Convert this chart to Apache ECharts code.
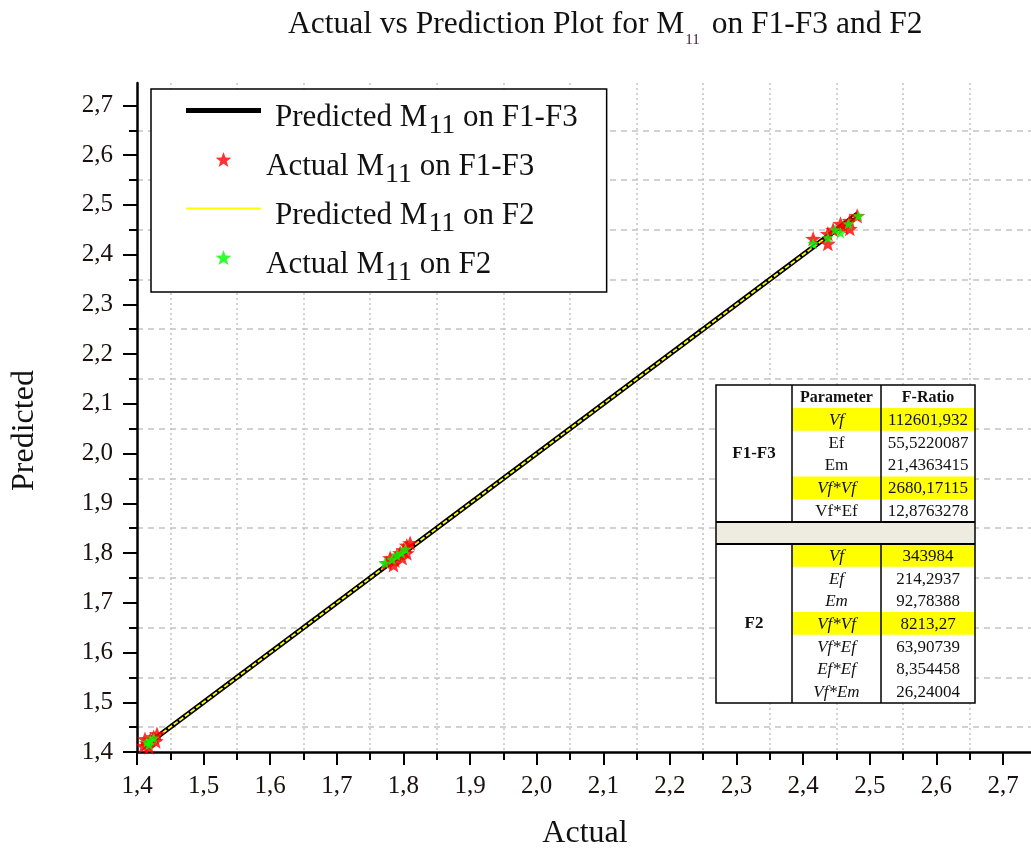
<!DOCTYPE html>
<html><head><meta charset="utf-8">
<script src="https://cdn.jsdelivr.net/npm/echarts@6/dist/echarts.min.js"></script>
<style>html,body{margin:0;padding:0;background:#fff}#c{width:1031px;height:848px}</style>
</head><body><div id="c"></div>
<script>
// ---- data ----
const xMajorTicks = [1.4,1.5,1.6,1.7,1.8,1.9,2.0,2.1,2.2,2.3,2.4,2.5,2.6,2.7];
const xMinorTicks = [1.45,1.55,1.65,1.75,1.85,1.95,2.05,2.15,2.25,2.35,2.45,2.55,2.65];
const yMajorTicks = [1.4,1.5,1.6,1.7,1.8,1.9,2.0,2.1,2.2,2.3,2.4,2.5,2.6,2.7];
const yMinorTicks = [1.45,1.55,1.65,1.75,1.85,1.95,2.05,2.15,2.25,2.35,2.45,2.55,2.65];

const predictedF13 = [[1.413,1.413],[1.80,1.80],[2.482,2.482]];
const predictedF2  = [[1.413,1.413],[1.80,1.80],[2.482,2.482]];
const actualF13 = [
  [1.410,1.412],[1.415,1.418],[1.420,1.425],[1.425,1.430],[1.430,1.436],[1.418,1.410],[1.428,1.422],[1.412,1.426],
  [1.775,1.780],[1.780,1.790],[1.787,1.785],[1.790,1.795],[1.795,1.800],[1.800,1.806],[1.805,1.800],[1.805,1.815],[1.810,1.820],[1.785,1.776],[1.798,1.790],
  [2.415,2.432],[2.437,2.442],[2.437,2.422],[2.456,2.462],[2.470,2.452],[2.470,2.468],[2.481,2.478],[2.445,2.450],[2.460,2.455]
];
const actualF2 = [
  [1.415,1.420],[1.420,1.423],[1.425,1.428],[1.418,1.415],
  [1.772,1.780],[1.783,1.787],[1.790,1.795],[1.797,1.800],[1.803,1.808],
  [2.415,2.422],[2.437,2.434],[2.456,2.444],[2.468,2.462],[2.483,2.478],[2.448,2.450]
];

const seriesNames = ['Predicted M11 on F1-F3','Actual M11 on F1-F3','Predicted M11 on F2','Actual M11 on F2'];

const tableHeader = ['Parameter','F-Ratio'];
const groupNames = ['F1-F3','F2'];
const f13Params = ['Vf','Ef','Em','Vf*Vf','Vf*Ef'];
const f13Values = ['112601,932','55,5220087','21,4363415','2680,17115','12,8763278'];
const f13Highlight = [true,false,false,true,false];
const f13Italic = [true,false,false,true,false];
const f2Params = ['Vf','Ef','Em','Vf*Vf','Vf*Ef','Ef*Ef','Vf*Em'];
const f2Values = ['343984','214,2937','92,78388','8213,27','63,90739','8,354458','26,24004'];
const f2Highlight = [true,false,false,true,false,false,false];
const f2Italic = [true,true,true,true,true,true,true];

// ---- helpers ----
function starPath(inner){
  const pts=[];
  for(let i=0;i<10;i++){
    const r = i%2 ? inner : 1;
    const a = -Math.PI/2 + i*Math.PI/5;
    pts.push((r*Math.cos(a)).toFixed(3)+','+(r*Math.sin(a)).toFixed(3));
  }
  return 'path://M'+pts.join('L')+'Z';
}
const STAR = starPath(0.42);
const BAR_THICK = 'path://M0,0L75,0L75,5L0,5Z';
const BAR_THIN = 'path://M0,0L75,0L75,2.2L0,2.2Z';
const SERIF = '"Liberation Serif","DejaVu Serif",serif';
const comma = v => (Math.round(v*10)/10).toFixed(1).replace('.',',');

// ---- table graphic ----
function buildTable(){
  const L=716, R=975, C1=792, C2=881;
  const top=385, headH=23, rowH1=22.8, bandH=22, rowH2=22.7;
  const Z=100;
  const els=[];
  const y1 = top+headH;
  const y1b = y1 + rowH1*f13Params.length;
  const y2 = y1b + bandH;
  const y2b = y2 + rowH2*f2Params.length;
  els.push({type:'rect', z:Z, shape:{x:L,y:top,width:R-L,height:y2b-top}, style:{fill:'#fff'}});
  els.push({type:'rect', z:Z, shape:{x:L,y:y1b,width:R-L,height:bandH}, style:{fill:'#EEECE1'}});
  const txt=(t,x,y,font)=>({type:'text', z:Z+2, x:x, y:y, style:{text:t, font:font, fill:'#111', align:'center', verticalAlign:'middle', textAlign:'center', textVerticalAlign:'middle'}});
  const rows=(params,values,hl,it,ys,rh)=>{
    params.forEach((p,i)=>{
      const y=ys+i*rh;
      if(hl[i]){
        els.push({type:'rect', z:Z+1, shape:{x:C1,y:y,width:C2-C1,height:rh}, style:{fill:'#FFFF00'}});
        els.push({type:'rect', z:Z+1, shape:{x:C2,y:y,width:R-C2,height:rh}, style:{fill:'#FFFF00'}});
      }
      els.push(txt(p,(C1+C2)/2,y+rh/2+1,(it[i]?'italic ':'')+'17px '+SERIF));
      els.push(txt(values[i],(C2+R)/2,y+rh/2+1,'17px '+SERIF));
    });
  };
  rows(f13Params,f13Values,f13Highlight,f13Italic,y1,rowH1);
  rows(f2Params,f2Values,f2Highlight,f2Italic,y2,rowH2);
  els.push(txt(tableHeader[0],(C1+C2)/2,top+headH/2+1,'bold 16px '+SERIF));
  els.push(txt(tableHeader[1],(C2+R)/2,top+headH/2+1,'bold 16px '+SERIF));
  els.push(txt(groupNames[0],(L+C1)/2,(top+y1b)/2,'bold 17px '+SERIF));
  els.push(txt(groupNames[1],(L+C1)/2,(y2+y2b)/2,'bold 17px '+SERIF));
  const ln=(x1,y1_,x2,y2_,w)=>els.push({type:'line', z:Z+3, shape:{x1:x1,y1:y1_,x2:x2,y2:y2_}, style:{stroke:'#000', lineWidth:w}});
  ln(C1,top,C1,y1b,1.5); ln(C2,top,C2,y1b,1.5);
  ln(C1,y2,C1,y2b,1.5); ln(C2,y2,C2,y2b,1.5);
  ln(L,y1b,R,y1b,2); ln(L,y2,R,y2,2);
  els.push({type:'rect', z:Z+3, shape:{x:L,y:top,width:R-L,height:y2b-top}, style:{fill:'none', stroke:'#000', lineWidth:1.5}});
  return {type:'group', z:Z, children:els};
}

// ---- chart ----
const chart = echarts.init(document.getElementById('c'), null, {renderer:'canvas'});
const gridColor = '#c4c4c4';
const legendFmt = name => {
  const p = name.split('M11');
  const first = name.indexOf('Predicted') === 0 ? 'a' : 'n';
  return '{' + first + '|' + p[0] + 'M}{s|11}{n|' + p[1] + '}';
};
const legendRich = {
  a:{fontFamily:SERIF, fontSize:31, lineHeight:31, padding:[7,0,0,9], verticalAlign:'top', color:'#111'},
  n:{fontFamily:SERIF, fontSize:31, lineHeight:31, padding:[7,0,0,0], verticalAlign:'top', color:'#111'},
  s:{fontFamily:SERIF, fontSize:28, lineHeight:28, padding:[17,0,0,1], verticalAlign:'top', color:'#111'}
};

const option = {
  animation:false,
  backgroundColor:'#fff',
  title:{
    text:'{n|Actual vs Prediction Plot for M}{s|11}{n| on F1-F3 and F2}',
    left:283, top:4,
    textStyle:{rich:{
      n:{fontFamily:SERIF, fontSize:31.5, fontWeight:'normal', lineHeight:32, padding:[0,0,0,0], verticalAlign:'top', color:'#111'},
      s:{fontFamily:SERIF, fontSize:15, fontWeight:'normal', lineHeight:15, padding:[24,4,0,1], verticalAlign:'top', color:'#3a1a3a'}
    }}
  },
  legend:{
    orient:'vertical', left:151, top:89,
    padding:[6,29,5,35], itemGap:4, itemWidth:75, itemHeight:15,
    backgroundColor:'#fff', borderColor:'#000', borderWidth:1.5, borderRadius:0,
    formatter:legendFmt,
    textStyle:{rich:legendRich},
    data:[
      {name:seriesNames[0], icon:BAR_THICK},
      {name:seriesNames[1], icon:STAR},
      {name:seriesNames[2], icon:BAR_THIN},
      {name:seriesNames[3], icon:STAR}
    ],
    z:50
  },
  grid:{left:137, top:83, right:-2, bottom:96, outerBoundsMode:'none', containLabel:false},
  xAxis:[{
    type:'value', min:1.4, max:2.745, position:'bottom',
    name:'Actual', nameLocation:'middle', nameGap:66,
    nameTextStyle:{fontFamily:SERIF, fontSize:32, color:'#111'},
    axisLine:{show:true, onZero:false, lineStyle:{color:'#000', width:2.5}},
    axisTick:{show:true, customValues:xMajorTicks, length:13, lineStyle:{color:'#000', width:2}},
    axisLabel:{customValues:xMajorTicks, formatter:comma, margin:22, fontFamily:SERIF, fontSize:25, color:'#1a1010'},
    splitLine:{show:false}
  },{
    type:'value', min:1.4, max:2.745, position:'bottom', offset:0,
    axisLine:{show:false},
    axisTick:{show:true, customValues:xMinorTicks, length:8, lineStyle:{color:'#000', width:2}},
    axisLabel:{show:false},
    splitLine:{show:true, lineStyle:{color:gridColor, width:1.5, type:[2,3]}}
  }],
  yAxis:[{
    type:'value', min:1.4, max:2.745, position:'left',
    name:'Predicted', nameLocation:'middle', nameGap:96, nameRotate:90,
    nameTextStyle:{fontFamily:SERIF, fontSize:32, color:'#111', padding:[0,26,0,0]},
    axisLine:{show:true, onZero:false, lineStyle:{color:'#000', width:2.5}},
    axisTick:{show:true, customValues:yMajorTicks, length:14, lineStyle:{color:'#000', width:2}},
    axisLabel:{customValues:yMajorTicks, formatter:comma, margin:24, fontFamily:SERIF, fontSize:25, color:'#1a1010'},
    splitLine:{show:false}
  },{
    type:'value', min:1.4, max:2.745, position:'left', offset:0,
    axisLine:{show:false},
    axisTick:{show:true, customValues:yMinorTicks, length:8, lineStyle:{color:'#000', width:2}},
    axisLabel:{show:false},
    splitLine:{show:true, lineStyle:{color:gridColor, width:1.5, type:[6,5]}}
  }],
  series:[
    {name:seriesNames[0], type:'line', data:predictedF13, symbol:'none', z:3,
     lineStyle:{color:'#000', width:5}, itemStyle:{color:'#000'}},
    {name:seriesNames[1], type:'scatter', data:actualF13, symbol:STAR, symbolSize:16, symbolKeepAspect:true, z:5,
     itemStyle:{color:'#ff0000'}},
    {name:seriesNames[2], type:'line', data:predictedF2, symbol:'none', z:4,
     lineStyle:{color:'#ffff00', width:1.8, type:[5,2]}, itemStyle:{color:'#ffff00'}},
    {name:seriesNames[3], type:'scatter', data:actualF2, symbol:STAR, symbolSize:12, symbolKeepAspect:true, z:6,
     itemStyle:{color:'#00ff00'}}
  ],
  graphic:[buildTable()]
};
chart.setOption(option);
</script>
</body></html>
